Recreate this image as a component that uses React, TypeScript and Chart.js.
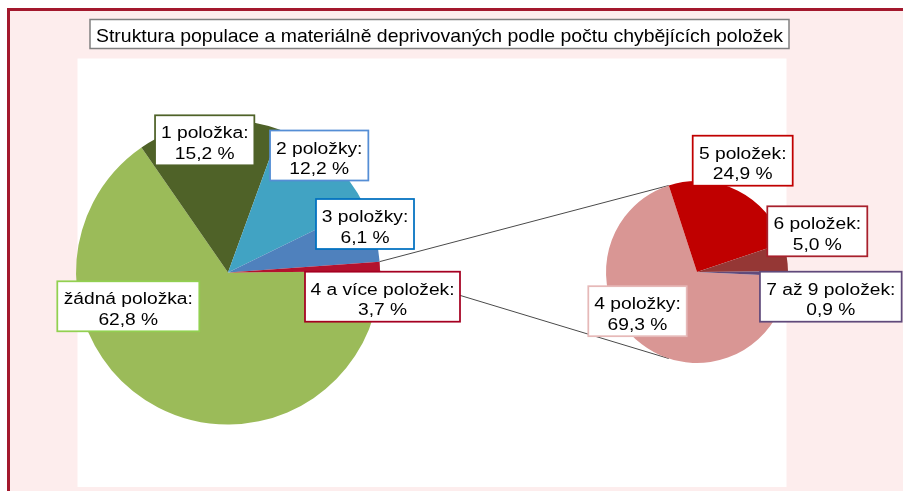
import React, { useEffect, useRef } from 'react';
import { Chart, registerables } from 'chart.js';

Chart.register(...registerables);

// ---------- data ----------
const TITLE = 'Struktura populace a materiálně deprivovaných podle počtu chybějících položek';

const mainCategories = ['žádná položka', '1 položka', '2 položky', '3 položky', '4 a více položek'];
// percentages printed in the labels
const mainLabelPct = [62.8, 15.2, 12.2, 6.1, 3.7];
// slice shares as drawn in the picture
const mainSliceShare = [65.5, 15.2, 12.2, 6.1, 1.0];

const subCategories = ['4 položky', '5 položek', '6 položek', '7 až 9 položek'];
const subPct = [69.3, 24.9, 5.0, 0.9];

// ---------- styles ----------
const mainColors = ['#9BBB59', '#4F6228', '#41A3C3', '#4F81BD', '#B3122E'];
const mainBorderColors = ['#92D050', '#4F6228', '#558ED5', '#0070C0', '#A50021'];
const subColors = ['#D99694', '#C00000', '#953735', '#604A7B'];
const subBorderColors = ['#E6B9B8', '#C00000', '#A8202C', '#604A7B'];

const mainLabelBoxes = [
  { cx: 128.3, cy: 306.3, w: 142 },
  { cx: 204.7, cy: 140.3, w: 99.3 },
  { cx: 319.2, cy: 155.5, w: 98.3 },
  { cx: 365, cy: 224, w: 98 },
  { cx: 382.5, cy: 296.7, w: 155 },
];
const subLabelBoxes = [
  { cx: 637.5, cy: 311.2, w: 98.4 },
  { cx: 742.7, cy: 160.7, w: 100 },
  { cx: 817.3, cy: 231.3, w: 100 },
  { cx: 830.8, cy: 296.7, w: 141.7 },
];

const W = 903;
const H = 491;
const PINK = '#FDEDED';
const FRAME = '#A3182D';
const LABEL_FONT = '16px "Liberation Sans", Arial, sans-serif';
const SX = 1.2;

const fmt = (v: number) => v.toFixed(1).replace('.', ',') + ' %';

function drawLabel(ctx: CanvasRenderingContext2D, lines: string[], box: { cx: number; cy: number; w: number }, border: string) {
  const h = 50;
  const x = box.cx - box.w / 2;
  const y = box.cy - h / 2;
  ctx.save();
  ctx.fillStyle = '#ffffff';
  ctx.fillRect(x, y, box.w, h);
  ctx.lineWidth = 1.75;
  ctx.strokeStyle = border;
  ctx.strokeRect(x, y, box.w, h);
  ctx.fillStyle = '#000000';
  ctx.font = LABEL_FONT;
  ctx.textAlign = 'center';
  ctx.textBaseline = 'alphabetic';
  lines.forEach((t, i) => {
    ctx.save();
    ctx.translate(box.cx, box.cy - 2 + i * 20.5);
    ctx.scale(SX, 1);
    ctx.fillText(t, 0, 0);
    ctx.restore();
  });
  ctx.restore();
}

const backgroundPlugin = {
  id: 'bgFrame',
  beforeDraw(chart: any) {
    const ctx: CanvasRenderingContext2D = chart.ctx;
    ctx.save();
    ctx.fillStyle = '#ffffff';
    ctx.fillRect(0, 0, W, H);
    ctx.fillStyle = PINK;
    ctx.fillRect(9, 10, W, H);
    ctx.fillStyle = FRAME;
    ctx.fillRect(7, 8, 3, H);
    ctx.fillRect(7, 8, W - 7, 3);
    // plot area
    ctx.fillStyle = '#ffffff';
    ctx.fillRect(77.5, 58.5, 709, 428.5);
    // title box
    ctx.fillStyle = '#ffffff';
    ctx.fillRect(90, 19.5, 699, 29);
    ctx.strokeStyle = '#808080';
    ctx.lineWidth = 1.5;
    ctx.strokeRect(90, 19.5, 699, 29);
    ctx.fillStyle = '#000000';
    ctx.font = '18.5px "Liberation Sans", Arial, sans-serif';
    ctx.textAlign = 'center';
    ctx.textBaseline = 'alphabetic';
    const tw = ctx.measureText(TITLE).width;
    const s = 687 / tw;
    ctx.translate(439.5, 41.7);
    ctx.scale(s, 1);
    ctx.fillText(TITLE, 0, 0);
    ctx.restore();
  },
};

export default function App() {
  const mainRef = useRef<HTMLCanvasElement>(null);
  const subRef = useRef<HTMLCanvasElement>(null);

  useEffect(() => {
    const mainChart = new Chart(mainRef.current as HTMLCanvasElement, {
      type: 'pie',
      data: {
        labels: mainCategories,
        datasets: [
          {
            data: mainSliceShare,
            backgroundColor: mainColors,
            borderWidth: 0,
          },
        ],
      },
      options: {
        responsive: false,
        animation: false,
        devicePixelRatio: 1,
        events: [],
        rotation: 89.5,
        layout: { padding: { left: 76, right: 523, top: 120.5, bottom: 66.5 } },
        plugins: { legend: { display: false }, tooltip: { enabled: false }, title: { display: false } },
      },
      plugins: [backgroundPlugin],
    } as any);

    const overlayPlugin = {
      id: 'connectorsAndLabels',
      beforeDatasetsDraw(chart: any) {
        const ctx: CanvasRenderingContext2D = chart.ctx;
        const mArc: any = mainChart.getDatasetMeta(0).data[4];
        const m = mArc.getProps(['x', 'y', 'startAngle', 'endAngle', 'outerRadius'], true);
        const sArc: any = chart.getDatasetMeta(0).data[1];
        const s = sArc.getProps(['x', 'y', 'startAngle', 'endAngle', 'outerRadius'], true);
        const aTop = s.startAngle;
        const aBot = -s.startAngle;
        ctx.save();
        ctx.strokeStyle = '#4a4a4a';
        ctx.lineWidth = 1;
        ctx.beginPath();
        ctx.moveTo(m.x + m.outerRadius * Math.cos(m.startAngle), m.y + m.outerRadius * Math.sin(m.startAngle));
        ctx.lineTo(s.x + s.outerRadius * Math.cos(aTop), s.y + s.outerRadius * Math.sin(aTop));
        ctx.moveTo(m.x + m.outerRadius * Math.cos(m.endAngle), m.y + m.outerRadius * Math.sin(m.endAngle));
        ctx.lineTo(s.x + s.outerRadius * Math.cos(aBot), s.y + s.outerRadius * Math.sin(aBot));
        ctx.stroke();
        ctx.restore();
      },
      afterDatasetsDraw(chart: any) {
        const ctx: CanvasRenderingContext2D = chart.ctx;
        mainCategories.forEach((c, i) => {
          drawLabel(ctx, [c + ':', fmt(mainLabelPct[i])], mainLabelBoxes[i], mainBorderColors[i]);
        });
        subCategories.forEach((c, i) => {
          drawLabel(ctx, [c + ':', fmt(subPct[i])], subLabelBoxes[i], subBorderColors[i]);
        });
      },
    };

    const subChart = new Chart(subRef.current as HTMLCanvasElement, {
      type: 'pie',
      data: {
        labels: subCategories,
        datasets: [
          {
            data: subPct,
            backgroundColor: subColors,
            borderWidth: 0,
          },
        ],
      },
      options: {
        responsive: false,
        animation: false,
        devicePixelRatio: 1,
        events: [],
        rotation: 92.7,
        layout: { padding: { left: 606, right: 115, top: 181, bottom: 128 } },
        plugins: { legend: { display: false }, tooltip: { enabled: false }, title: { display: false } },
      },
      plugins: [overlayPlugin],
    } as any);

    return () => {
      subChart.destroy();
      mainChart.destroy();
    };
  }, []);

  return (
    <div style={{ position: 'absolute', left: 0, top: 0, width: W, height: H, overflow: 'hidden' }}>
      <canvas ref={mainRef} width={W} height={H} style={{ position: 'absolute', left: 0, top: 0 }} />
      <canvas ref={subRef} width={W} height={H} style={{ position: 'absolute', left: 0, top: 0 }} />
    </div>
  );
}
